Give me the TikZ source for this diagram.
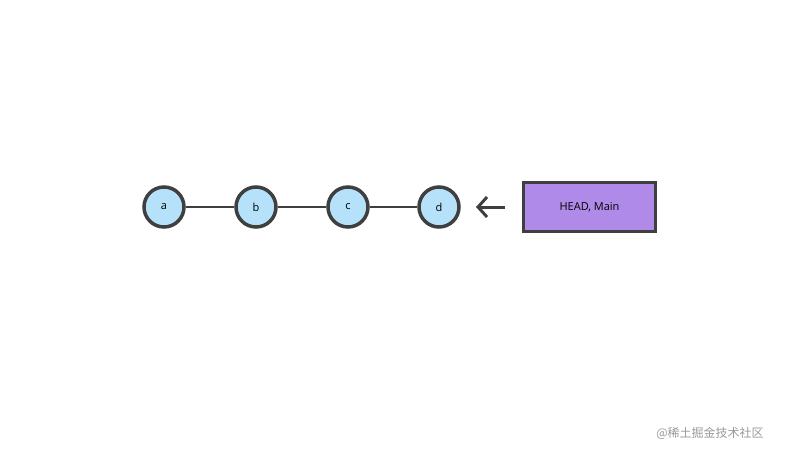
\documentclass[tikz,border=0pt]{standalone}
\usepackage{fontspec}
\setmainfont{Open Sans}
\newfontfamily\cjk{Noto Sans CJK SC}
\usetikzlibrary{arrows.meta}
\definecolor{ln}{HTML}{3F3F3F}
\definecolor{cb}{HTML}{B5E1FB}
\definecolor{pb}{HTML}{B08AE8}
\begin{document}
\begin{tikzpicture}[x=1pt,y=-1pt,
  commit/.style={circle,draw=ln,line width=3.5pt,fill=cb,minimum size=40pt,inner sep=0pt,font=\fontsize{11}{13}\selectfont},
  refbox/.style={draw=ln,line width=3.5pt,fill=pb,minimum width=132pt,minimum height=49pt,font=\fontsize{11}{13}\selectfont},
  edge/.style={ln,line width=2.5pt}]
\useasboundingbox (0,0) rectangle (800,458);
\node[commit] (a) at (164,207) {a};
\node[commit] (b) at (256,207) {b};
\node[commit] (c) at (348,207) {c};
\node[commit] (d) at (439,207) {d};
\node[refbox] (h) at (589.5,207) {HEAD, Main};
\draw[edge] (a) -- (b);
\draw[edge] (b) -- (c);
\draw[edge] (c) -- (d);
\coordinate (as) at (505,207);
\coordinate (ae) at (476,207);
\draw[ln,line width=3pt,-{Straight Barb[length=9pt,width=20pt,line width=3pt]}] (as) -- (ae);
\node[text=gray!80,font=\cjk\fontsize{12}{14}\selectfont] (wm) at (710,433) {@稀土掘金技术社区};
\end{tikzpicture}
\end{document}
